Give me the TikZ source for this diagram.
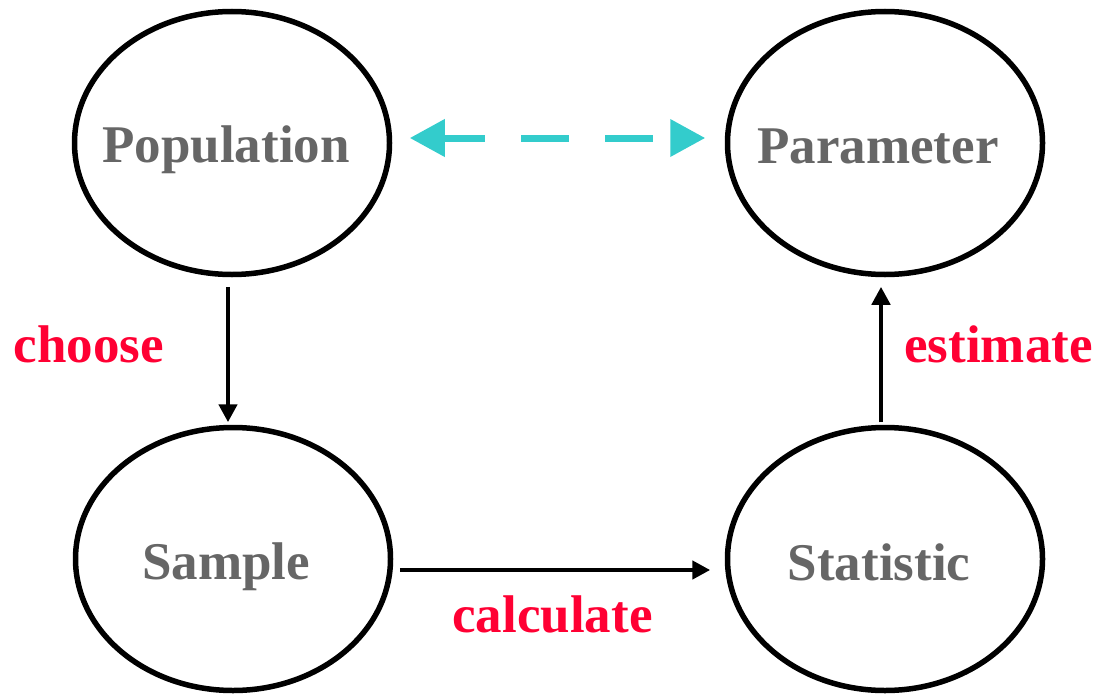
\documentclass[tikz,border=0pt]{standalone}
\usepackage{fontspec}
\setmainfont{Liberation Serif}
\newfontfamily\timesbold{Liberation Serif Bold}
\usetikzlibrary{shapes.geometric,arrows.meta}
\definecolor{txtgray}{HTML}{666666}
\definecolor{linkcyan}{HTML}{33CCCC}
\definecolor{labred}{HTML}{FF0033}
\tikzset{
  oval/.style={ellipse,draw=black,line width=5.5pt,minimum width=315pt,minimum height=263pt,inner sep=0pt},
  ovaltext/.style={anchor=base,text=txtgray,font=\timesbold\fontsize{53}{60}\selectfont,inner sep=0pt},
  verbtext/.style={anchor=base,text=labred,font=\timesbold\fontsize{53}{60}\selectfont,inner sep=0pt},
  flow/.style={line width=4.5pt,-{Triangle[length=18pt,width=18pt]}},
  link/.style={linkcyan,line width=7pt,{Triangle[length=35pt,width=36pt]}-{Triangle[length=35pt,width=36pt]},dash pattern=on 48pt off 36pt,dash phase=6pt}
}
\begin{document}
\begin{tikzpicture}[x=1pt,y=-1pt]
\useasboundingbox (0,0) rectangle (1097,693);
\node[oval] (pop) at (232,143) {};
\node[oval] (par) at (885,143) {};
\node[oval] (sam) at (233,559) {};
\node[oval] (sta) at (885,559) {};
\node[ovaltext] (popt) at (226,162) {Population};
\node[ovaltext] (part) at (878,163) {Parameter};
\node[ovaltext] (samt) at (226,579) {Sample};
\node[ovaltext] (stat) at (879,580) {Statistic};
\draw[link,shorten <=17.5pt,shorten >=19.5pt] ([yshift=5pt]pop.east) -- ([yshift=5pt]par.west);
\draw[flow,shorten <=9.5pt,shorten >=2.5pt] ([xshift=-4pt]pop.south) -- ([xshift=-5pt]sam.north);
\draw[flow,shorten <=2.5pt,shorten >=9.5pt] ([xshift=-4pt]sta.north) -- ([xshift=-4pt]par.south);
\draw[flow,shorten <=6.5pt,shorten >=14.5pt] ([yshift=-11pt]sam.east) -- ([yshift=-11pt]sta.west);
\node[verbtext] (choose) at (89,362) {choose};
\node[verbtext] (estimate) at (998.5,362) {estimate};
\node[verbtext] (calculate) at (552.5,632) {calculate};
\end{tikzpicture}
\end{document}
